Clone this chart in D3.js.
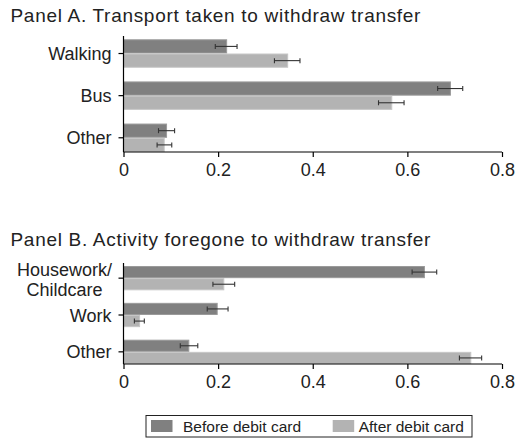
<!DOCTYPE html>
<html>
<head>
<meta charset="utf-8">
<script src="https://cdn.jsdelivr.net/npm/d3@7"></script>
<style>
  body { margin: 0; background: #fff; }
  svg { display: block; font-family: "Liberation Sans", Arial, sans-serif; }
  .axis path, .axis line { stroke: #000; stroke-width: 1.2; }
  .axis text { font-size: 18px; fill: #222; }
</style>
</head>
<body>
<script>
const seriesNames = ["Before debit card", "After debit card"];

const transportCats = ["Walking", "Bus", "Other"];
const transportBefore = [0.218, 0.691, 0.091];
const transportAfter = [0.347, 0.567, 0.086];
const transportBeforeLo = [0.194, 0.664, 0.074];
const transportBeforeHi = [0.240, 0.717, 0.108];
const transportAfterLo = [0.319, 0.539, 0.071];
const transportAfterHi = [0.373, 0.593, 0.102];

const activityCats = ["Housework/\nChildcare", "Work", "Other"];
const activityBefore = [0.636, 0.198, 0.138];
const activityAfter = [0.212, 0.034, 0.734];
const activityBeforeLo = [0.610, 0.177, 0.120];
const activityBeforeHi = [0.662, 0.221, 0.157];
const activityAfterLo = [0.189, 0.023, 0.710];
const activityAfterHi = [0.235, 0.044, 0.757];

const xTicks = [0, 0.2, 0.4, 0.6, 0.8];

const width = 529,
  height = 438;

const fills = ["#808080", "#b3b3b3"],
  strokes = ["#9a9a9a", "#c6c6c6"];

const svg = d3
  .select("body")
  .append("svg")
  .attr("width", width)
  .attr("height", height);

const x = d3.scaleLinear().domain([0, 0.8]).range([123.5, 502]);

function panel(opts) {
  const g = svg.append("g");

  g.append("text")
    .attr("x", 10.5)
    .attr("y", opts.titleY)
    .attr("font-size", 19)
    .attr("letter-spacing", 0.7)
    .attr("fill", "#222")
    .text(opts.title);

  const y = d3
    .scaleBand()
    .domain(opts.cats)
    .range([opts.barTop, opts.bottom])
    .paddingInner(opts.pad)
    .paddingOuter(0);

  const half = y.bandwidth() / 2;

  const rows = opts.cats.map((c, i) => ({
    cat: c,
    vals: [opts.before[i], opts.after[i]],
    lo: [opts.beforeLo[i], opts.afterLo[i]],
    hi: [opts.beforeHi[i], opts.afterHi[i]]
  }));

  const row = g
    .selectAll("g.row")
    .data(rows)
    .enter()
    .append("g")
    .attr("class", "row")
    .attr("transform", d => `translate(0,${y(d.cat)})`);

  [0, 1].forEach(s => {
    row
      .append("rect")
      .attr("x", x(0))
      .attr("y", s * half + 0.5)
      .attr("width", d => x(d.vals[s]) - x(0))
      .attr("height", half - 1)
      .attr("fill", fills[s])
      .attr("stroke", strokes[s])
      .attr("stroke-width", 1);

    const eb = row.append("g").attr("stroke", "#333").attr("stroke-width", 1.1);
    const cy = s * half + half / 2;
    eb.append("line")
      .attr("x1", d => x(d.lo[s]))
      .attr("x2", d => x(d.hi[s]))
      .attr("y1", cy)
      .attr("y2", cy);
    eb.append("line")
      .attr("x1", d => x(d.lo[s]))
      .attr("x2", d => x(d.lo[s]))
      .attr("y1", cy - 2.5)
      .attr("y2", cy + 2.5);
    eb.append("line")
      .attr("x1", d => x(d.hi[s]))
      .attr("x2", d => x(d.hi[s]))
      .attr("y1", cy - 2.5)
      .attr("y2", cy + 2.5);
  });

  // x axis
  g.append("g")
    .attr("class", "axis")
    .attr("transform", `translate(0,${opts.bottom})`)
    .call(
      d3
        .axisBottom(x)
        .tickValues(xTicks)
        .tickFormat(d => (d === 0 ? "0" : d3.format(".1f")(d)))
        .tickSize(5)
        .tickSizeOuter(0)
        .tickPadding(6)
    )
    .call(a => a.select(".domain").remove());

  g.append("line")
    .attr("x1", x(0))
    .attr("x2", x(0.8))
    .attr("y1", opts.bottom)
    .attr("y2", opts.bottom)
    .attr("stroke", "#000")
    .attr("stroke-width", 1.2);

  // y axis
  const yAxis = g
    .append("g")
    .attr("class", "axis")
    .attr("transform", `translate(${x(0)},0)`)
    .call(d3.axisLeft(y).tickSize(5).tickSizeOuter(0).tickPadding(7).tickFormat(""))
    .call(a => a.select(".domain").remove());

  yAxis
    .selectAll(".tick")
    .append("text")
    .attr("fill", "#222")
    .attr("text-anchor", d => (d.includes("\n") ? "middle" : "end"))
    .attr("x", d => (d.includes("\n") ? -59 : -12))
    .selectAll("tspan")
    .data(d => {
      const parts = d.split("\n");
      return parts.map((p, i) => ({ p, i, n: parts.length }));
    })
    .enter()
    .append("tspan")
    .attr("x", d => (d.n > 1 ? -59 : -12))
    .attr("y", d => (d.n > 1 ? -2 + d.i * 20 : 6.5))
    .text(d => d.p);

  g.append("line")
    .attr("x1", x(0))
    .attr("x2", x(0))
    .attr("y1", opts.axisTop)
    .attr("y2", opts.bottom)
    .attr("stroke", "#000")
    .attr("stroke-width", 1.2);
}

panel({
  title: "Panel A. Transport taken to withdraw transfer",
  titleY: 21.5,
  cats: transportCats,
  before: transportBefore,
  after: transportAfter,
  beforeLo: transportBeforeLo,
  beforeHi: transportBeforeHi,
  afterLo: transportAfterLo,
  afterHi: transportAfterHi,
  axisTop: 36,
  barTop: 39.3,
  bottom: 152,
  pad: 0.325
});

panel({
  title: "Panel B. Activity foregone to withdraw transfer",
  titleY: 245.5,
  cats: activityCats,
  before: activityBefore,
  after: activityAfter,
  beforeLo: activityBeforeLo,
  beforeHi: activityBeforeHi,
  afterLo: activityAfterLo,
  afterHi: activityAfterHi,
  axisTop: 263,
  barTop: 266,
  bottom: 364,
  pad: 0.34
});

// legend
const legend = svg.append("g");
legend
  .append("rect")
  .attr("x", 146)
  .attr("y", 415.5)
  .attr("width", 326)
  .attr("height", 21.5)
  .attr("fill", "#fff")
  .attr("stroke", "#222")
  .attr("stroke-width", 1);

const legendX = [151, 332.7];
const item = legend
  .selectAll("g.item")
  .data(seriesNames)
  .enter()
  .append("g")
  .attr("class", "item")
  .attr("transform", (d, i) => `translate(${legendX[i]},420)`);

item
  .append("rect")
  .attr("width", 21.5)
  .attr("height", 12)
  .attr("fill", (d, i) => fills[i]);

item
  .append("text")
  .attr("x", (d, i) => (i === 0 ? 32 : 26))
  .attr("y", 11.5)
  .attr("font-size", 15.5)
  .attr("fill", "#222")
  .text(d => d);
</script>
</body>
</html>
